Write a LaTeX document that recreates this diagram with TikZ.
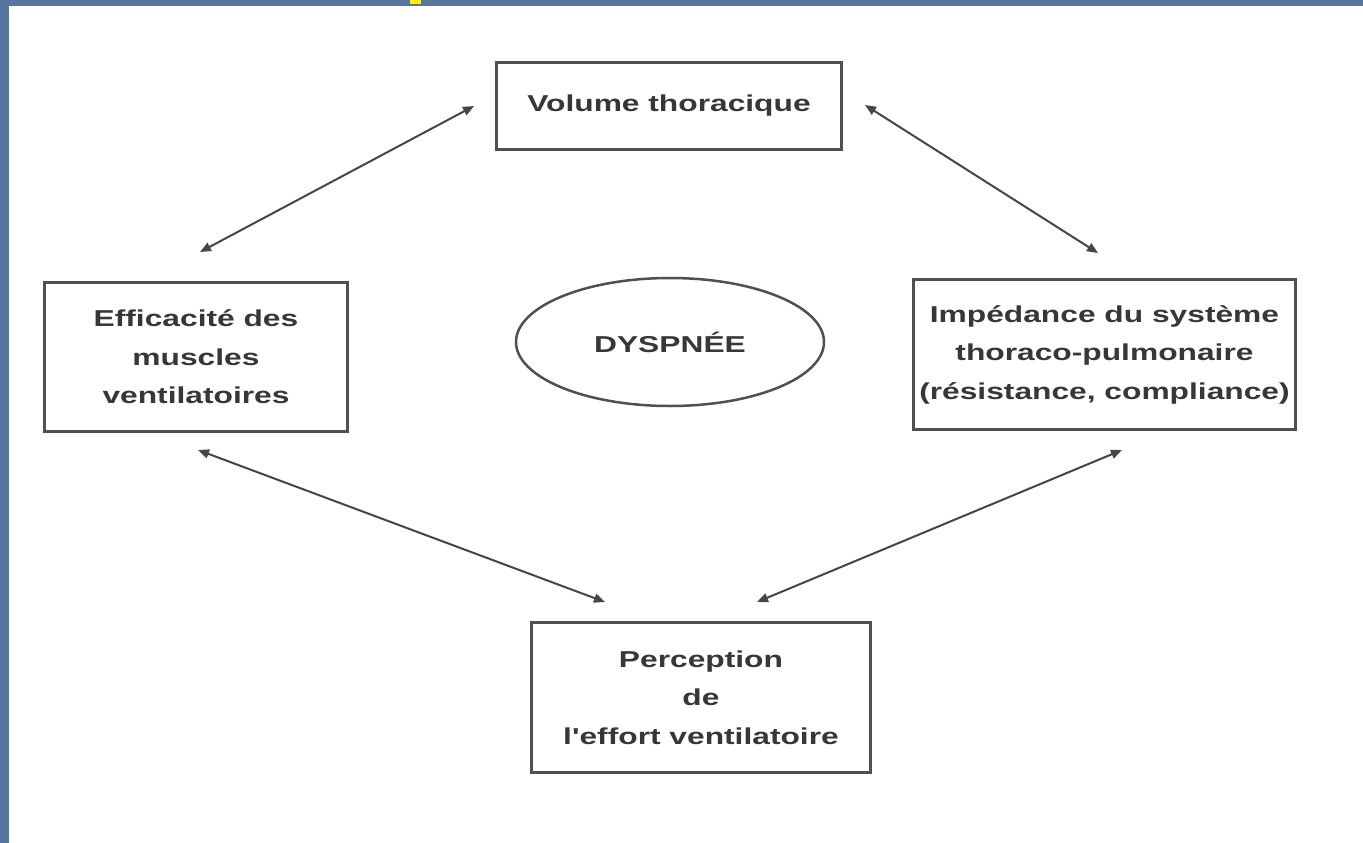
\documentclass[tikz,border=0pt]{standalone}
\usepackage{fontspec}
\setmainfont{Liberation Sans}
\newfontfamily\dfont[FakeStretch=1.38]{Liberation Sans}
\usetikzlibrary{arrows.meta,shapes.geometric}
\definecolor{bgblue}{RGB}{86,118,160}
\definecolor{boxgray}{RGB}{80,80,80}
\definecolor{txtgray}{RGB}{55,55,55}
\definecolor{arrgray}{RGB}{70,70,70}
\tikzset{
  boxnode/.style={draw=boxgray, line width=3pt, rectangle, align=center, inner sep=0pt,
    font=\dfont\bfseries\fontsize{23}{38.5}\selectfont, text=txtgray},
  ellnode/.style={draw=boxgray, line width=2.5pt, ellipse, inner sep=0pt,
    font=\dfont\bfseries\fontsize{23}{38.5}\selectfont, text=txtgray},
  dblarrow/.style={draw=arrgray, line width=2pt, {Triangle[length=11pt,width=9pt]}-{Triangle[length=11pt,width=9pt]}}
}
\begin{document}
\begin{tikzpicture}[x=1pt,y=-1pt]
\useasboundingbox (0,0) rectangle (1363,843);
\fill[bgblue] (0,0) rectangle (1363,843);
\fill[white] (9,6) rectangle (1363,843);
\fill[yellow] (410,0) rectangle (421,4);

\node[boxnode, minimum width=345pt, minimum height=87pt] (vol) at (669,106) {Volume thoracique};
\node[boxnode, minimum width=303pt, minimum height=149pt] (eff) at (196,357) {Efficacité des\\muscles\\ventilatoires};
\node[boxnode, minimum width=382pt, minimum height=150pt] (imp) at (1104.5,354.5) {Impédance du système\\thoraco-pulmonaire\\(résistance, compliance)};
\node[boxnode, minimum width=339pt, minimum height=150pt] (per) at (701,697.5) {Perception\\de\\l'effort ventilatoire};
\node[ellnode, minimum width=308pt, minimum height=128pt] (dys) at (670,342) {DYSPNÉE};

\coordinate (a1s) at (200,252);
\coordinate (a1e) at (474,106);
\coordinate (a2s) at (865,105);
\coordinate (a2e) at (1098,253);
\coordinate (a3s) at (198,450);
\coordinate (a3e) at (605,602);
\coordinate (a4s) at (757,602);
\coordinate (a4e) at (1122,450);

\draw[dblarrow] (a1s) -- (a1e);
\draw[dblarrow] (a2s) -- (a2e);
\draw[dblarrow] (a3s) -- (a3e);
\draw[dblarrow] (a4s) -- (a4e);
\end{tikzpicture}
\end{document}
